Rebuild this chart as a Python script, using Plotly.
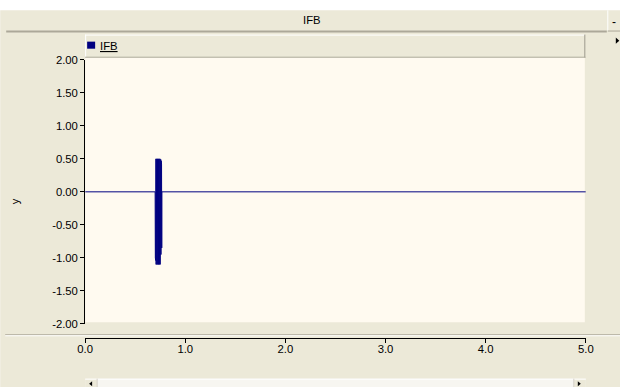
import plotly.graph_objects as go

# IFB signal: flat line with a short oscillating burst near t = 0.7 s
time_s = [0.000, 0.699, 0.701, 0.703, 0.705, 0.707, 0.709, 0.711, 0.713, 0.715,
          0.717, 0.719, 0.721, 0.723, 0.725, 0.727, 0.729, 0.731, 0.733, 0.735,
          0.737, 0.739, 0.741, 0.743, 0.745, 0.747, 0.749, 0.751, 0.753, 0.755,
          0.757, 0.759, 0.761, 0.763, 0.765, 0.766, 5.000]
ifb = [0.00, 0.00, -1.00, 0.47, -1.04, 0.50, -1.10, 0.49, -1.08, 0.50,
       -1.10, 0.48, -1.06, 0.50, -1.10, 0.49, -1.09, 0.50, -1.10, 0.48,
       -1.07, 0.50, -1.10, 0.49, -1.05, 0.50, -1.10, 0.48, -1.02, 0.49,
       -0.95, 0.47, -0.85, 0.42, -0.85, 0.00, 0.00]

y_ticks = [-2.0, -1.5, -1.0, -0.5, 0.0, 0.5, 1.0, 1.5, 2.0]
x_ticks = [0.0, 1.0, 2.0, 3.0, 4.0, 5.0]

W, H = 620, 387
# page box including the default 8 px body margin on each side
PAGE_W, PAGE_H, PAD = W + 16, H + 16, 8
BEIGE = "#ECE9D8"
EDGE = "#ACA899"
CREAM = "#FFFAF0"
FONT = "Liberation Sans"
FS = 11.3


def fx(px):
    """Window pixel column -> paper fraction."""
    return (px * PAGE_W / W - PAD) / W


def fy(py):
    """Window pixel row -> paper fraction."""
    return 1 - (py * PAGE_H / H - PAD) / H


def rect(x0, y0, x1, y1, fill, layer="below"):
    return dict(type="rect", xref="paper", yref="paper",
                x0=fx(x0), x1=fx(x1), y0=fy(y1), y1=fy(y0),
                fillcolor=fill, layer=layer, line=dict(width=0))


def hline(x0, x1, y, color, width=1, layer="below"):
    return dict(type="line", xref="paper", yref="paper",
                x0=fx(x0), x1=fx(x1), y0=fy(y), y1=fy(y),
                line=dict(color=color, width=width), layer=layer)


def vline(x, y0, y1, color, width=1, layer="below"):
    return dict(type="line", xref="paper", yref="paper",
                x0=fx(x), x1=fx(x), y0=fy(y0), y1=fy(y1),
                line=dict(color=color, width=width), layer=layer)


def tri(points, color, layer="above"):
    path = "M " + " L ".join(f"{fx(a)},{fy(b)}" for a, b in points) + " Z"
    return dict(type="path", xref="paper", yref="paper", path=path,
                fillcolor=color, line=dict(width=0), layer=layer)


fig = go.Figure()
fig.add_trace(go.Scatter(x=time_s, y=ifb, mode="lines", name="IFB",
                         line=dict(color="#000080", width=1),
                         showlegend=False, hoverinfo="skip"))

shapes = [
    # window body
    rect(0, 12, 640, 400, BEIGE),
    # title bar underline
    hline(6, 607, 33, EDGE, 2),
    # title bar button
    vline(608, 12, 32, "#FFFFFF"),
    hline(608, 640, 32.5, EDGE),
    # legend strip with bevel
    rect(85, 36, 585, 59, BEIGE),
    hline(85, 585, 36.5, "#FFFFFF"),
    vline(85.5, 36, 59, "#FFFFFF"),
    hline(85, 585.5, 58.5, "#9D9A8C"),
    vline(585, 36, 59, "#9D9A8C"),
    # plotting background
    rect(85, 59, 585, 321, CREAM),
    # separator above the time axis
    hline(5, 640, 333.5, EDGE),
    hline(5, 640, 334.5, "#FFFFFF"),
    # scrollbar
    rect(85, 377, 586, 400, "#F7F6F1"),
    rect(85, 377, 97, 400, BEIGE),
    rect(574, 377, 586, 400, BEIGE),
    hline(85, 586, 377.5, "#FFFFFF"),
    vline(97, 377, 400, "#D4D0C8"),
    vline(574, 377, 400, "#D4D0C8"),
    tri([(89, 382), (92, 379.5), (92, 384.5)], "#000000"),
    tri([(581, 382), (578, 379.5), (578, 384.5)], "#000000"),
    # legend marker
    rect(87, 43, 95, 50, "#000080", layer="above"),
    # small pointer at the right edge
    tri([(616, 39), (619.5, 42), (616, 45)], "#000000"),
]

annotations = [
    dict(text="IFB", x=fx(312), y=fy(22), xref="paper", yref="paper",
         showarrow=False, font=dict(family=FONT, size=FS, color="#000000"),
         xanchor="center", yanchor="middle"),
    dict(text="-", x=fx(614), y=fy(24), xref="paper", yref="paper",
         showarrow=False, font=dict(family=FONT, size=12, color="#000000"),
         xanchor="center", yanchor="middle"),
    dict(text="<u>IFB</u>", x=fx(98), y=fy(47), xref="paper", yref="paper",
         showarrow=False, font=dict(family=FONT, size=FS, color="#000000"),
         xanchor="left", yanchor="middle"),
    dict(text="y", x=fx(15), y=fy(201), xref="paper", yref="paper",
         showarrow=False, textangle=-90,
         font=dict(family=FONT, size=FS, color="#000000"),
         xanchor="center", yanchor="middle"),
]

axis_font = dict(family=FONT, size=FS, color="#000000")

fig.update_layout(
    width=W, height=H, autosize=False,
    margin=dict(l=0, r=0, t=0, b=0),
    paper_bgcolor="#FFFFFF",
    plot_bgcolor="rgba(0,0,0,0)",
    showlegend=False,
    shapes=shapes,
    annotations=annotations,
    xaxis=dict(domain=[fx(85), fx(586)], range=[0, 5],
               anchor="free", position=fy(337),
               tickvals=x_ticks, ticktext=[f"{v:.1f}" for v in x_ticks],
               showline=True, linecolor="#000000", linewidth=1,
               ticks="outside", ticklen=4, tickcolor="#000000",
               ticklabelstandoff=-4,
               showgrid=False, zeroline=False, tickfont=axis_font,
               fixedrange=True),
    yaxis=dict(domain=[fy(322.7), fy(61)], range=[-2, 2],
               anchor="x",
               tickvals=y_ticks, ticktext=[f"{v:.2f}" for v in y_ticks],
               showline=True, linecolor="#000000", linewidth=1,
               ticks="outside", ticklen=4, tickcolor="#000000",
               showgrid=False, zeroline=False, tickfont=axis_font,
               fixedrange=True),
)

# page background outside the figure box: white frame top/left, beige elsewhere
fig.write_html(
    "out.html",
    config={"displayModeBar": False},
    post_script="document.documentElement.style.background="
                "'linear-gradient(to right, #ffffff 0px, #ffffff 6px, "
                "rgba(255,255,255,0) 6px), "
                "linear-gradient(to bottom, #ffffff 0px, #ffffff 12px, "
                "#ECE9D8 12px)';",
)
